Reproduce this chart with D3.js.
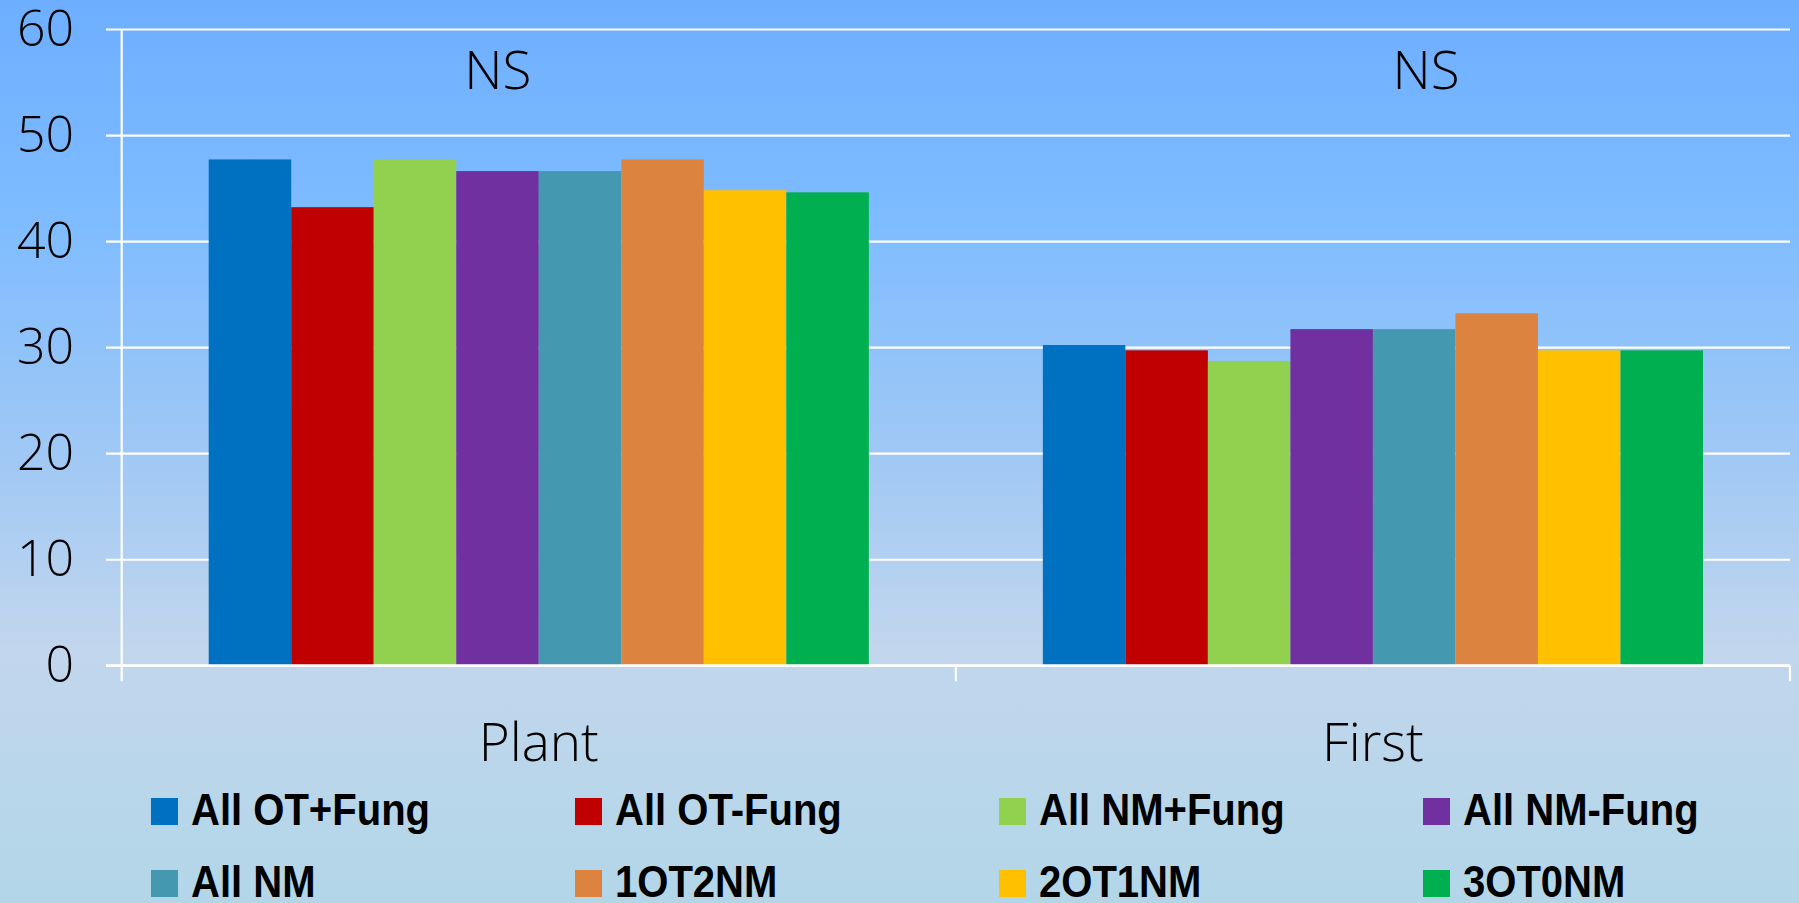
<!DOCTYPE html>
<html>
<head>
<meta charset="utf-8">
<script src="https://cdn.jsdelivr.net/npm/d3@7"></script>
<style>
  body { margin: 0; }
  svg { display: block; }
</style>
</head>
<body>
<div id="chart"></div>
<script>
// Data
const categories = ['Plant', 'First'];
const series = ['All OT+Fung', 'All OT-Fung', 'All NM+Fung', 'All NM-Fung',
                'All NM', '1OT2NM', '2OT1NM', '3OT0NM'];
const plantValues = [47.7, 43.2, 47.7, 46.6, 46.6, 47.7, 44.8, 44.6];
const firstValues = [30.2, 29.7, 28.7, 31.7, 31.7, 33.2, 29.7, 29.7];
const nsLabels = ['NS', 'NS'];
const yTicks = [0, 10, 20, 30, 40, 50, 60];
const colors = ['#0070c0', '#c00000', '#92d050', '#7030a0',
                '#4499b0', '#dd8340', '#ffc000', '#00b050'];

const valuesByCategory = { Plant: plantValues, First: firstValues };

// Layout
const width = 1799;
const height = 903;
const plot = { left: 121.7, right: 1790, top: 29, bottom: 665.3 };
const gridStart = 106;
const thinFont = "'Open Sans', 'Segoe UI', sans-serif";
const legendFont = "'Liberation Sans', Arial, sans-serif";

const svg = d3.select('#chart')
  .append('svg')
  .attr('width', width)
  .attr('height', height);

// Background gradient
const grad = svg.append('defs').append('linearGradient')
  .attr('id', 'bg')
  .attr('x1', 0).attr('y1', 0).attr('x2', 0).attr('y2', 1);
grad.append('stop').attr('offset', '0%').attr('stop-color', '#6daeff');
grad.append('stop').attr('offset', '25%').attr('stop-color', '#7fbcff');
grad.append('stop').attr('offset', '50%').attr('stop-color', '#9fc8f5');
grad.append('stop').attr('offset', '72%').attr('stop-color', '#c2d6ed');
grad.append('stop').attr('offset', '100%').attr('stop-color', '#b2d6e8');

svg.append('rect')
  .attr('width', width)
  .attr('height', height)
  .attr('fill', 'url(#bg)');

// Scales
const y = d3.scaleLinear()
  .domain([0, 60])
  .range([plot.bottom, plot.top]);

const x0 = d3.scaleBand()
  .domain(categories)
  .range([plot.left, plot.right]);

const gap = x0.bandwidth() * 0.1043;
const x1 = d3.scaleBand()
  .domain(series)
  .range([gap, x0.bandwidth() - gap]);

// Gridlines + y labels
const yAxis = svg.append('g')
  .attr('transform', `translate(${gridStart},0)`)
  .call(d3.axisLeft(y)
    .tickValues(yTicks)
    .tickSize(-(plot.right - gridStart))
    .tickPadding(32));
yAxis.select('.domain').remove();
yAxis.selectAll('line')
  .attr('stroke', '#ffffff')
  .attr('stroke-width', 2.2);
yAxis.selectAll('text')
  .attr('font-family', thinFont)
  .attr('font-weight', 300)
  .attr('font-size', 50)
  .attr('fill', '#000');

// Bars
const groups = svg.selectAll('.cat')
  .data(categories)
  .enter()
  .append('g')
  .attr('class', 'cat')
  .attr('transform', d => `translate(${x0(d)},0)`);

groups.selectAll('rect')
  .data(c => valuesByCategory[c].map((v, i) => ({ key: series[i], value: v, i })))
  .enter()
  .append('rect')
  .attr('x', d => x1(d.key))
  .attr('y', d => y(d.value))
  .attr('width', x1.bandwidth())
  .attr('height', d => y(0) - y(d.value))
  .attr('fill', d => colors[d.i]);

// Vertical axis line and category boundary ticks
svg.append('line')
  .attr('x1', plot.left).attr('x2', plot.left)
  .attr('y1', plot.top).attr('y2', plot.bottom + 16)
  .attr('stroke', '#fff').attr('stroke-width', 2.2);

svg.append('line')
  .attr('x1', gridStart).attr('x2', plot.right)
  .attr('y1', y(0)).attr('y2', y(0))
  .attr('stroke', '#fff').attr('stroke-width', 2.2);

const bounds = categories.map(c => x0(c)).concat([plot.right]);
svg.selectAll('.bound')
  .data(bounds.slice(1))
  .enter()
  .append('line')
  .attr('x1', d => d).attr('x2', d => d)
  .attr('y1', y(0)).attr('y2', y(0) + 16)
  .attr('stroke', '#fff').attr('stroke-width', 2.2);

// Category labels
svg.selectAll('.catlabel')
  .data(categories)
  .enter()
  .append('text')
  .attr('x', d => x0(d) + x0.bandwidth() / 2)
  .attr('y', 761)
  .attr('text-anchor', 'middle')
  .attr('font-family', thinFont)
  .attr('font-weight', 300)
  .attr('font-size', 53)
  .text(d => d);

// NS labels
const nsPos = [0.451, 0.5637];
svg.selectAll('.ns')
  .data(nsLabels)
  .enter()
  .append('text')
  .attr('x', (d, i) => x0(categories[i]) + x0.bandwidth() * nsPos[i])
  .attr('y', 89)
  .attr('text-anchor', 'middle')
  .attr('font-family', thinFont)
  .attr('font-weight', 300)
  .attr('font-size', 53)
  .text(d => d);

// Legend (bold, condensed look via horizontal scale)
const legend = svg.append('g');
const item = legend.selectAll('.item')
  .data(series)
  .enter()
  .append('g')
  .attr('transform', (d, i) => `translate(${151 + (i % 4) * 424},${798 + Math.floor(i / 4) * 72})`);

item.append('rect')
  .attr('width', 27)
  .attr('height', 27)
  .attr('fill', (d, i) => colors[i]);

item.append('text')
  .attr('transform', 'translate(40,27) scale(0.89,1)')
  .attr('font-family', legendFont)
  .attr('font-weight', 'bold')
  .attr('font-size', 45)
  .text(d => d);
</script>
</body>
</html>
